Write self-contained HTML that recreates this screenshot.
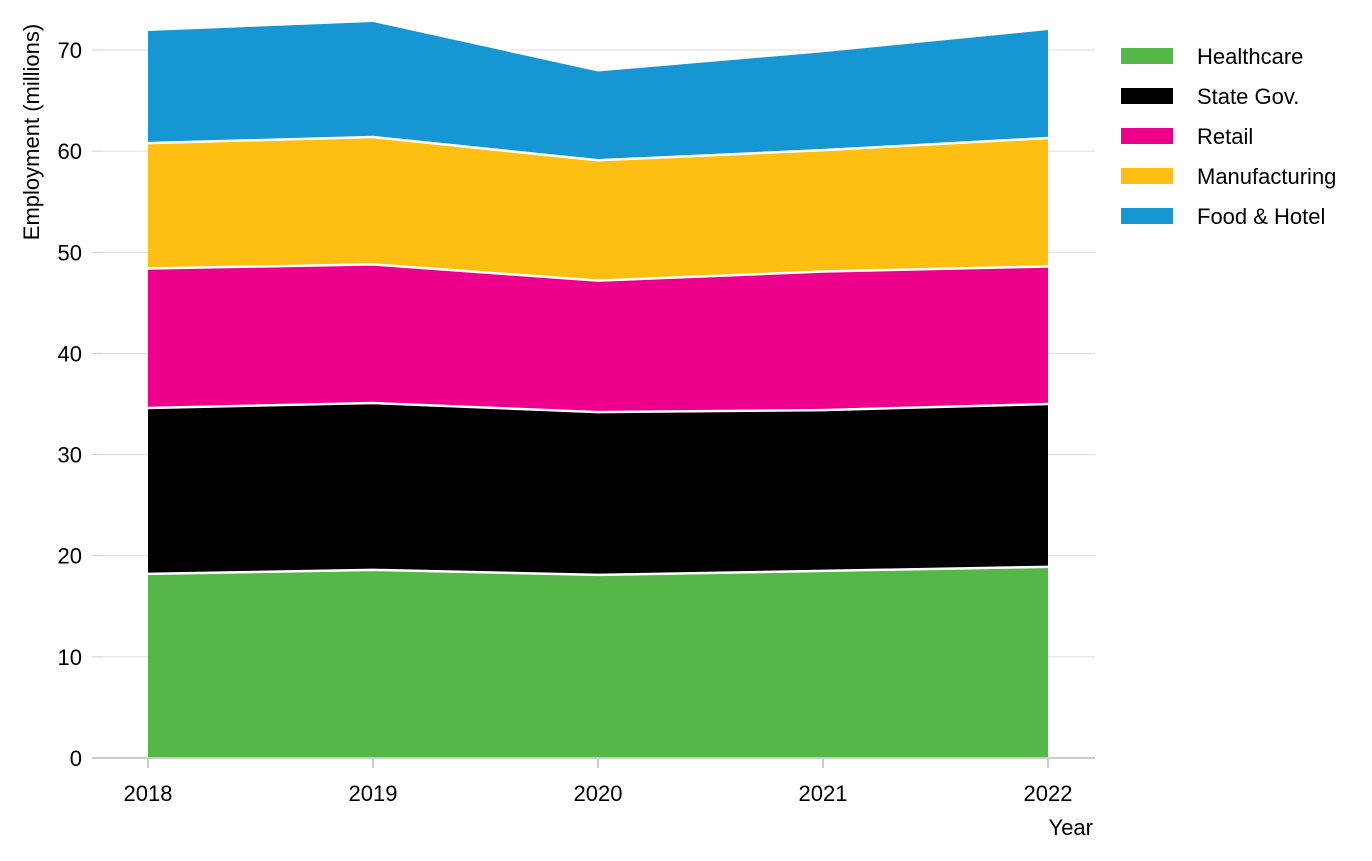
<!DOCTYPE html>
<html><head><meta charset="utf-8"><style>
html,body{margin:0;padding:0;background:#fff;}
svg{display:block;font-family:"Liberation Sans",sans-serif;}
</style></head><body>
<svg id="chart" width="1372" height="861"></svg>
<script>
const years = [2018, 2019, 2020, 2021, 2022];
const seriesNames = ["Healthcare", "State Gov.", "Retail", "Manufacturing", "Food & Hotel"];
const healthcare = [18.2, 18.6, 18.1, 18.5, 18.9];
const stateGov = [16.4, 16.5, 16.1, 15.9, 16.1];
const retail = [13.8, 13.7, 13.0, 13.7, 13.6];
const manufacturing = [12.4, 12.6, 11.9, 12.0, 12.7];
const foodHotel = [11.2, 11.5, 8.9, 9.8, 10.8];
const yTicks = [0, 10, 20, 30, 40, 50, 60, 70];
const colors = ["#55b748", "#000000", "#ec008b", "#fdbf11", "#1696d2"];

const NS = "http://www.w3.org/2000/svg";
const svg = document.getElementById("chart");
const x = v => 148 + (v - 2018) * 225;
const y = v => 758 - v * 10.114;
function mk(tag, attrs, parent) {
  const e = document.createElementNS(NS, tag);
  for (const k in attrs) e.setAttribute(k, attrs[k]);
  (parent || svg).appendChild(e);
  return e;
}
// gridlines & y ticks
yTicks.forEach(t => {
  const g = mk("line", {x1: 103, x2: 1095, y1: y(t), y2: y(t), stroke: "#dcdcdc", "stroke-width": 1});
  
  
  const tk = mk("line", {x1: 92, x2: 103, y1: y(t), y2: y(t), stroke: "#cccccc", "stroke-width": 1});
  
  
  const lb = mk("text", {x: 82, y: y(t) + 8, "text-anchor": "end", "font-size": 22, fill: "#000"});
  lb.textContent = t;
  
  
});
// stacked areas
const all = [healthcare, stateGov, retail, manufacturing, foodHotel];
let base = years.map(() => 0);
all.forEach((s, i) => {
  const top = base.map((b, j) => b + s[j]);
  let d = "M" + years.map((yr, j) => x(yr) + "," + y(top[j])).join("L");
  for (let j = years.length - 1; j >= 0; j--) d += "L" + x(years[j]) + "," + y(base[j]);
  d += "Z";
  const p = mk("path", {d: d, fill: colors[i]});
  
  
  base = top;
});
// white separators
base = years.map(() => 0);
all.forEach((s, i) => {
  const top = base.map((b, j) => b + s[j]);
  const l = mk("polyline", {points: years.map((yr, j) => x(yr) + "," + y(top[j])).join(" "), fill: "none", stroke: "#fff", "stroke-width": 2.5});
  
  
  base = top;
});
// x axis
const ax = mk("line", {x1: 92, x2: 1095, y1: 758, y2: 758, stroke: "#cccccc", "stroke-width": 2});


years.forEach(yr => {
  const tk = mk("line", {x1: x(yr), x2: x(yr), y1: 758, y2: 768, stroke: "#cccccc", "stroke-width": 2});
  
  
  const lb = mk("text", {x: x(yr), y: 801, "text-anchor": "middle", "font-size": 22, fill: "#000"});
  lb.textContent = yr;
  
  
});
const xt = mk("text", {x: 1093, y: 835, "text-anchor": "end", "font-size": 22, fill: "#000"});
xt.textContent = "Year";


const yt = mk("text", {x: 0, y: 0, "text-anchor": "middle", "font-size": 22, fill: "#000", transform: "translate(39,132) rotate(-90)"});
yt.textContent = "Employment (millions)";


// legend
seriesNames.forEach((n, i) => {
  const cy = 56 + i * 40;
  const r = mk("rect", {x: 1121, y: cy - 8, width: 52, height: 16, fill: colors[i]});
  
  
  const t = mk("text", {x: 1197, y: cy + 8, "font-size": 22, fill: "#000"});
  t.textContent = n;
  
  
});
</script>
</body></html>
